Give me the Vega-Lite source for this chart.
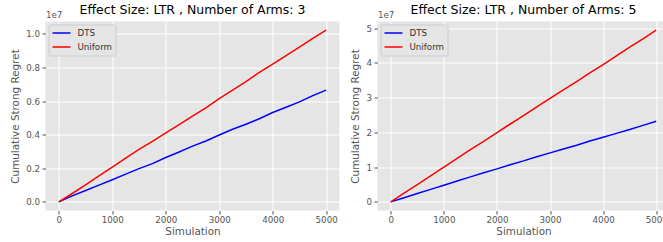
{
  "$schema": "https://vega.github.io/schema/vega-lite/v6.json",
  "background": "white",
  "padding": {"left": 10.5, "top": 3.5, "right": 0, "bottom": 0},
  "spacing": 11,
  "datasets": {
    "arms3": [
      {"sim": 0, "policy": "DTS", "regret": 0},
      {"sim": 250, "policy": "DTS", "regret": 360000},
      {"sim": 500, "policy": "DTS", "regret": 680000},
      {"sim": 750, "policy": "DTS", "regret": 1000000},
      {"sim": 1000, "policy": "DTS", "regret": 1320000},
      {"sim": 1250, "policy": "DTS", "regret": 1650000},
      {"sim": 1500, "policy": "DTS", "regret": 1980000},
      {"sim": 1750, "policy": "DTS", "regret": 2280000},
      {"sim": 2000, "policy": "DTS", "regret": 2640000},
      {"sim": 2250, "policy": "DTS", "regret": 2970000},
      {"sim": 2500, "policy": "DTS", "regret": 3320000},
      {"sim": 2750, "policy": "DTS", "regret": 3620000},
      {"sim": 3000, "policy": "DTS", "regret": 3980000},
      {"sim": 3250, "policy": "DTS", "regret": 4320000},
      {"sim": 3500, "policy": "DTS", "regret": 4620000},
      {"sim": 3750, "policy": "DTS", "regret": 4950000},
      {"sim": 4000, "policy": "DTS", "regret": 5320000},
      {"sim": 4250, "policy": "DTS", "regret": 5630000},
      {"sim": 4500, "policy": "DTS", "regret": 5950000},
      {"sim": 4750, "policy": "DTS", "regret": 6320000},
      {"sim": 5000, "policy": "DTS", "regret": 6650000},
      {"sim": 0, "policy": "Uniform", "regret": 0},
      {"sim": 250, "policy": "Uniform", "regret": 500000},
      {"sim": 500, "policy": "Uniform", "regret": 1020000},
      {"sim": 750, "policy": "Uniform", "regret": 1550000},
      {"sim": 1000, "policy": "Uniform", "regret": 2070000},
      {"sim": 1250, "policy": "Uniform", "regret": 2600000},
      {"sim": 1500, "policy": "Uniform", "regret": 3120000},
      {"sim": 1750, "policy": "Uniform", "regret": 3600000},
      {"sim": 2000, "policy": "Uniform", "regret": 4100000},
      {"sim": 2250, "policy": "Uniform", "regret": 4600000},
      {"sim": 2500, "policy": "Uniform", "regret": 5100000},
      {"sim": 2750, "policy": "Uniform", "regret": 5600000},
      {"sim": 3000, "policy": "Uniform", "regret": 6150000},
      {"sim": 3250, "policy": "Uniform", "regret": 6650000},
      {"sim": 3500, "policy": "Uniform", "regret": 7150000},
      {"sim": 3750, "policy": "Uniform", "regret": 7700000},
      {"sim": 4000, "policy": "Uniform", "regret": 8200000},
      {"sim": 4250, "policy": "Uniform", "regret": 8700000},
      {"sim": 4500, "policy": "Uniform", "regret": 9200000},
      {"sim": 4750, "policy": "Uniform", "regret": 9720000},
      {"sim": 5000, "policy": "Uniform", "regret": 10220000}
    ],
    "arms5": [
      {"sim": 0, "policy": "DTS", "regret": 0},
      {"sim": 250, "policy": "DTS", "regret": 1200000},
      {"sim": 500, "policy": "DTS", "regret": 2400000},
      {"sim": 750, "policy": "DTS", "regret": 3600000},
      {"sim": 1000, "policy": "DTS", "regret": 4800000},
      {"sim": 1250, "policy": "DTS", "regret": 6000000},
      {"sim": 1500, "policy": "DTS", "regret": 7200000},
      {"sim": 1750, "policy": "DTS", "regret": 8400000},
      {"sim": 2000, "policy": "DTS", "regret": 9500000},
      {"sim": 2250, "policy": "DTS", "regret": 10700000},
      {"sim": 2500, "policy": "DTS", "regret": 11800000},
      {"sim": 2750, "policy": "DTS", "regret": 13000000},
      {"sim": 3000, "policy": "DTS", "regret": 14100000},
      {"sim": 3250, "policy": "DTS", "regret": 15200000},
      {"sim": 3500, "policy": "DTS", "regret": 16300000},
      {"sim": 3750, "policy": "DTS", "regret": 17500000},
      {"sim": 4000, "policy": "DTS", "regret": 18600000},
      {"sim": 4250, "policy": "DTS", "regret": 19700000},
      {"sim": 4500, "policy": "DTS", "regret": 20800000},
      {"sim": 4750, "policy": "DTS", "regret": 22000000},
      {"sim": 5000, "policy": "DTS", "regret": 23200000},
      {"sim": 0, "policy": "Uniform", "regret": 0},
      {"sim": 250, "policy": "Uniform", "regret": 2500000},
      {"sim": 500, "policy": "Uniform", "regret": 5000000},
      {"sim": 750, "policy": "Uniform", "regret": 7500000},
      {"sim": 1000, "policy": "Uniform", "regret": 10000000},
      {"sim": 1250, "policy": "Uniform", "regret": 12500000},
      {"sim": 1500, "policy": "Uniform", "regret": 15000000},
      {"sim": 1750, "policy": "Uniform", "regret": 17400000},
      {"sim": 2000, "policy": "Uniform", "regret": 19900000},
      {"sim": 2250, "policy": "Uniform", "regret": 22400000},
      {"sim": 2500, "policy": "Uniform", "regret": 24800000},
      {"sim": 2750, "policy": "Uniform", "regret": 27300000},
      {"sim": 3000, "policy": "Uniform", "regret": 29800000},
      {"sim": 3250, "policy": "Uniform", "regret": 32200000},
      {"sim": 3500, "policy": "Uniform", "regret": 34600000},
      {"sim": 3750, "policy": "Uniform", "regret": 37100000},
      {"sim": 4000, "policy": "Uniform", "regret": 39500000},
      {"sim": 4250, "policy": "Uniform", "regret": 42000000},
      {"sim": 4500, "policy": "Uniform", "regret": 44500000},
      {"sim": 4750, "policy": "Uniform", "regret": 46900000},
      {"sim": 5000, "policy": "Uniform", "regret": 49400000}
    ]
  },
  "hconcat": [
    {
      "width": 294,
      "height": 189,
      "title": {"text": "Effect Size: LTR , Number of Arms: 3"},
      "data": {"name": "arms3"},
      "layer": [
        {
          "mark": {"type": "line", "strokeWidth": 1.5},
          "encoding": {
            "x": {"field": "sim", "type": "quantitative", "scale": {"domain": [-250, 5250], "nice": false, "zero": false}, "axis": {"values": [0, 1000, 2000, 3000, 4000, 5000], "format": "d", "title": "Simulation"}},
            "y": {"field": "regret", "type": "quantitative", "scale": {"domain": [-511000, 10731000], "nice": false, "zero": false}, "axis": {"values": [0, 2000000, 4000000, 6000000, 8000000, 10000000], "labelExpr": "format(datum.value/1e7, '.1f')", "title": "Cumulative Strong Regret"}},
            "color": {"field": "policy", "type": "nominal", "scale": {"domain": ["DTS", "Uniform"], "range": ["#0000FF", "#FF0000"]}, "legend": {"title": null, "orient": "top-left"}}
          }
        },
        {
          "mark": {"type": "line", "opacity": 0},
          "encoding": {
            "x": {"field": "sim", "type": "quantitative"},
            "y": {"field": "regret", "type": "quantitative", "scale": {"domain": [-511000, 10731000], "nice": false, "zero": false}, "axis": {"orient": "left", "title": "1e7", "labels": false, "ticks": false, "grid": false, "domain": false, "titleAngle": 0, "titleX": 0, "titleY": -4, "titleAlign": "left", "titleBaseline": "alphabetic", "titleFontSize": 8.7}},
            "detail": {"field": "policy"}
          }
        }
      ],
      "resolve": {"scale": {"y": "independent"}, "axis": {"y": "independent"}}
    },
    {
      "width": 292,
      "height": 189,
      "title": {"text": "Effect Size: LTR , Number of Arms: 5"},
      "data": {"name": "arms5"},
      "layer": [
        {
          "mark": {"type": "line", "strokeWidth": 1.5},
          "encoding": {
            "x": {"field": "sim", "type": "quantitative", "scale": {"domain": [-250, 5250], "nice": false, "zero": false}, "axis": {"values": [0, 1000, 2000, 3000, 4000, 5000], "format": "d", "title": "Simulation"}},
            "y": {"field": "regret", "type": "quantitative", "scale": {"domain": [-2470000, 51870000], "nice": false, "zero": false}, "axis": {"values": [0, 10000000, 20000000, 30000000, 40000000, 50000000], "labelExpr": "format(datum.value/1e7, 'd')", "title": "Cumulative Strong Regret"}},
            "color": {"field": "policy", "type": "nominal", "scale": {"domain": ["DTS", "Uniform"], "range": ["#0000FF", "#FF0000"]}, "legend": {"title": null, "orient": "top-left"}}
          }
        },
        {
          "mark": {"type": "line", "opacity": 0},
          "encoding": {
            "x": {"field": "sim", "type": "quantitative"},
            "y": {"field": "regret", "type": "quantitative", "scale": {"domain": [-2470000, 51870000], "nice": false, "zero": false}, "axis": {"orient": "left", "title": "1e7", "labels": false, "ticks": false, "grid": false, "domain": false, "titleAngle": 0, "titleX": 0, "titleY": -4, "titleAlign": "left", "titleBaseline": "alphabetic", "titleFontSize": 8.7}},
            "detail": {"field": "policy"}
          }
        }
      ],
      "resolve": {"scale": {"y": "independent"}, "axis": {"y": "independent"}}
    }
  ],
  "resolve": {"scale": {"color": "independent"}, "legend": {"color": "independent"}},
  "config": {
    "view": {"fill": "#E5E5E5", "stroke": null},
    "font": "DejaVu Sans",
    "axis": {
      "grid": true, "gridColor": "#FFFFFF", "gridWidth": 1,
      "domain": false, "tickColor": "#555555", "tickSize": 3.5, "tickWidth": 1,
      "labelColor": "#555555", "labelFontSize": 8.7, "labelFont": "DejaVu Sans", "labelPadding": 2.5,
      "titleFont": "DejaVu Sans", "titleFontSize": 10.4, "titleColor": "#555555", "titleFontWeight": "normal", "titlePadding": 5
    },
    "axisX": {"labelPadding": 1.5, "titlePadding": 2},
    "title": {"font": "DejaVu Sans", "fontSize": 12.5, "fontWeight": "normal", "color": "#000000", "offset": -5.5, "baseline": "alphabetic"},
    "legend": {
      "fillColor": "#E5E5E5", "strokeColor": "#CCCCCC", "cornerRadius": 2, "padding": 3, "offset": 3,
      "symbolType": "M-1,0H3", "symbolSize": 81, "symbolStrokeWidth": 1.5,
      "labelFont": "DejaVu Sans", "labelFontSize": 8.7, "labelColor": "#333333", "rowPadding": 3, "labelOffset": 15
    }
  }
}
